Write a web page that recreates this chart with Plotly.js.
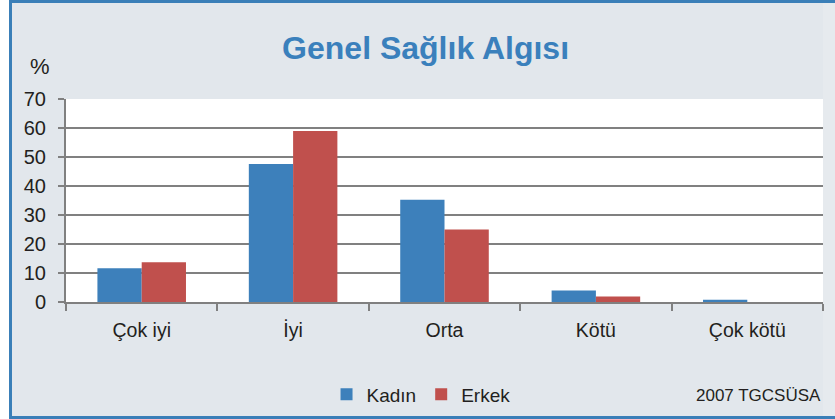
<!DOCTYPE html>
<html>
<head>
<meta charset="utf-8">
<script src="https://cdn.plot.ly/plotly-3.0.1.min.js"></script>
<style>
  html, body { margin:0; padding:0; background:#ffffff; overflow:hidden; }
  #frame { position:absolute; left:9px; top:0; width:814px; height:419px;
           background:#e2e7ec; border-left:3px solid #3a7fb8; border-top:3px solid #3a7fb8; border-bottom:3px solid #3a7fb8; border-right:none; box-sizing:border-box; }
  #strip { position:absolute; left:823px; top:0; width:12px; height:419px;
           background:#e6eaee; border-top:3px solid #3a7fb8; border-bottom:3px solid #3a7fb8; box-sizing:border-box; }
  #chart { position:absolute; left:0; top:0; width:835px; height:419px; }
</style>
</head>
<body>
<div id="frame"></div>
<div id="strip"></div>
<div id="chart"></div>
<script>
const categories = ["Çok iyi", "İyi", "Orta", "Kötü", "Çok kötü"];
const kadin = [11.6, 47.6, 35.3, 4.0, 0.8];
const erkek = [13.7, 59.0, 25.0, 1.9, 0];
const seriesNames = ["Kadın", "Erkek"];
const yTicks = [0, 10, 20, 30, 40, 50, 60, 70];

const FONT = "Liberation Sans, Arial, sans-serif";
const TXT = "#231f20";

const traces = [
  {type:"bar", x:categories, y:kadin, name:seriesNames[0], marker:{color:"#3d80bb"}},
  {type:"bar", x:categories, y:erkek, name:seriesNames[1], marker:{color:"#c0504d"}}
];

const layout = {
  width:835, height:419,
  paper_bgcolor:"rgba(0,0,0,0)",
  plot_bgcolor:"#ffffff",
  margin:{l:66, r:12, t:99, b:117, autoexpand:false},
  barmode:"group",
  bargap:0.415,
  bargroupgap:0,
  font:{family:FONT, color:TXT, size:19},
  title:{text:"<b>Genel Sağlık Algısı</b>", font:{family:FONT, size:32, color:"#3a80bc"},
         x:0.475, xanchor:"center", xref:"paper", y:0.885, yanchor:"middle", yref:"container"},
  xaxis:{type:"category", showgrid:false, showline:true, linecolor:"#808080", linewidth:2,
         ticks:"outside", tickson:"boundaries", ticklen:7, tickwidth:2, tickcolor:"#808080",
         ticklabelstandoff:10, tickfont:{size:19.5, family:FONT, color:TXT}},
  yaxis:{range:[0,70], tickvals:yTicks, showgrid:true, gridcolor:"#808080", gridwidth:2,
         showline:true, linecolor:"#808080", linewidth:2, zeroline:false,
         ticks:"outside", ticklen:6, tickwidth:2, tickcolor:"#808080",
         ticklabelstandoff:8, tickfont:{size:20, family:FONT, color:TXT}},
  showlegend:true,
  legend:{orientation:"h", x:0.469, xanchor:"center", y:-0.455, yanchor:"middle",
          font:{size:19, family:FONT, color:TXT}, bgcolor:"rgba(0,0,0,0)", itemwidth:30, traceorder:"normal"},
  annotations:[
    {text:"%", xref:"paper", yref:"paper", x:-0.034, y:1.16, xanchor:"center", yanchor:"middle",
     showarrow:false, font:{size:22, family:FONT, color:TXT}},
    {text:"2007 TGCSÜSA", xref:"paper", yref:"paper", x:1.0, y:-0.46, xanchor:"right", yanchor:"middle",
     showarrow:false, font:{size:17, family:FONT, color:TXT}}
  ]
};

Plotly.newPlot("chart", traces, layout, {displayModeBar:false, staticPlot:true});
</script>
</body>
</html>
